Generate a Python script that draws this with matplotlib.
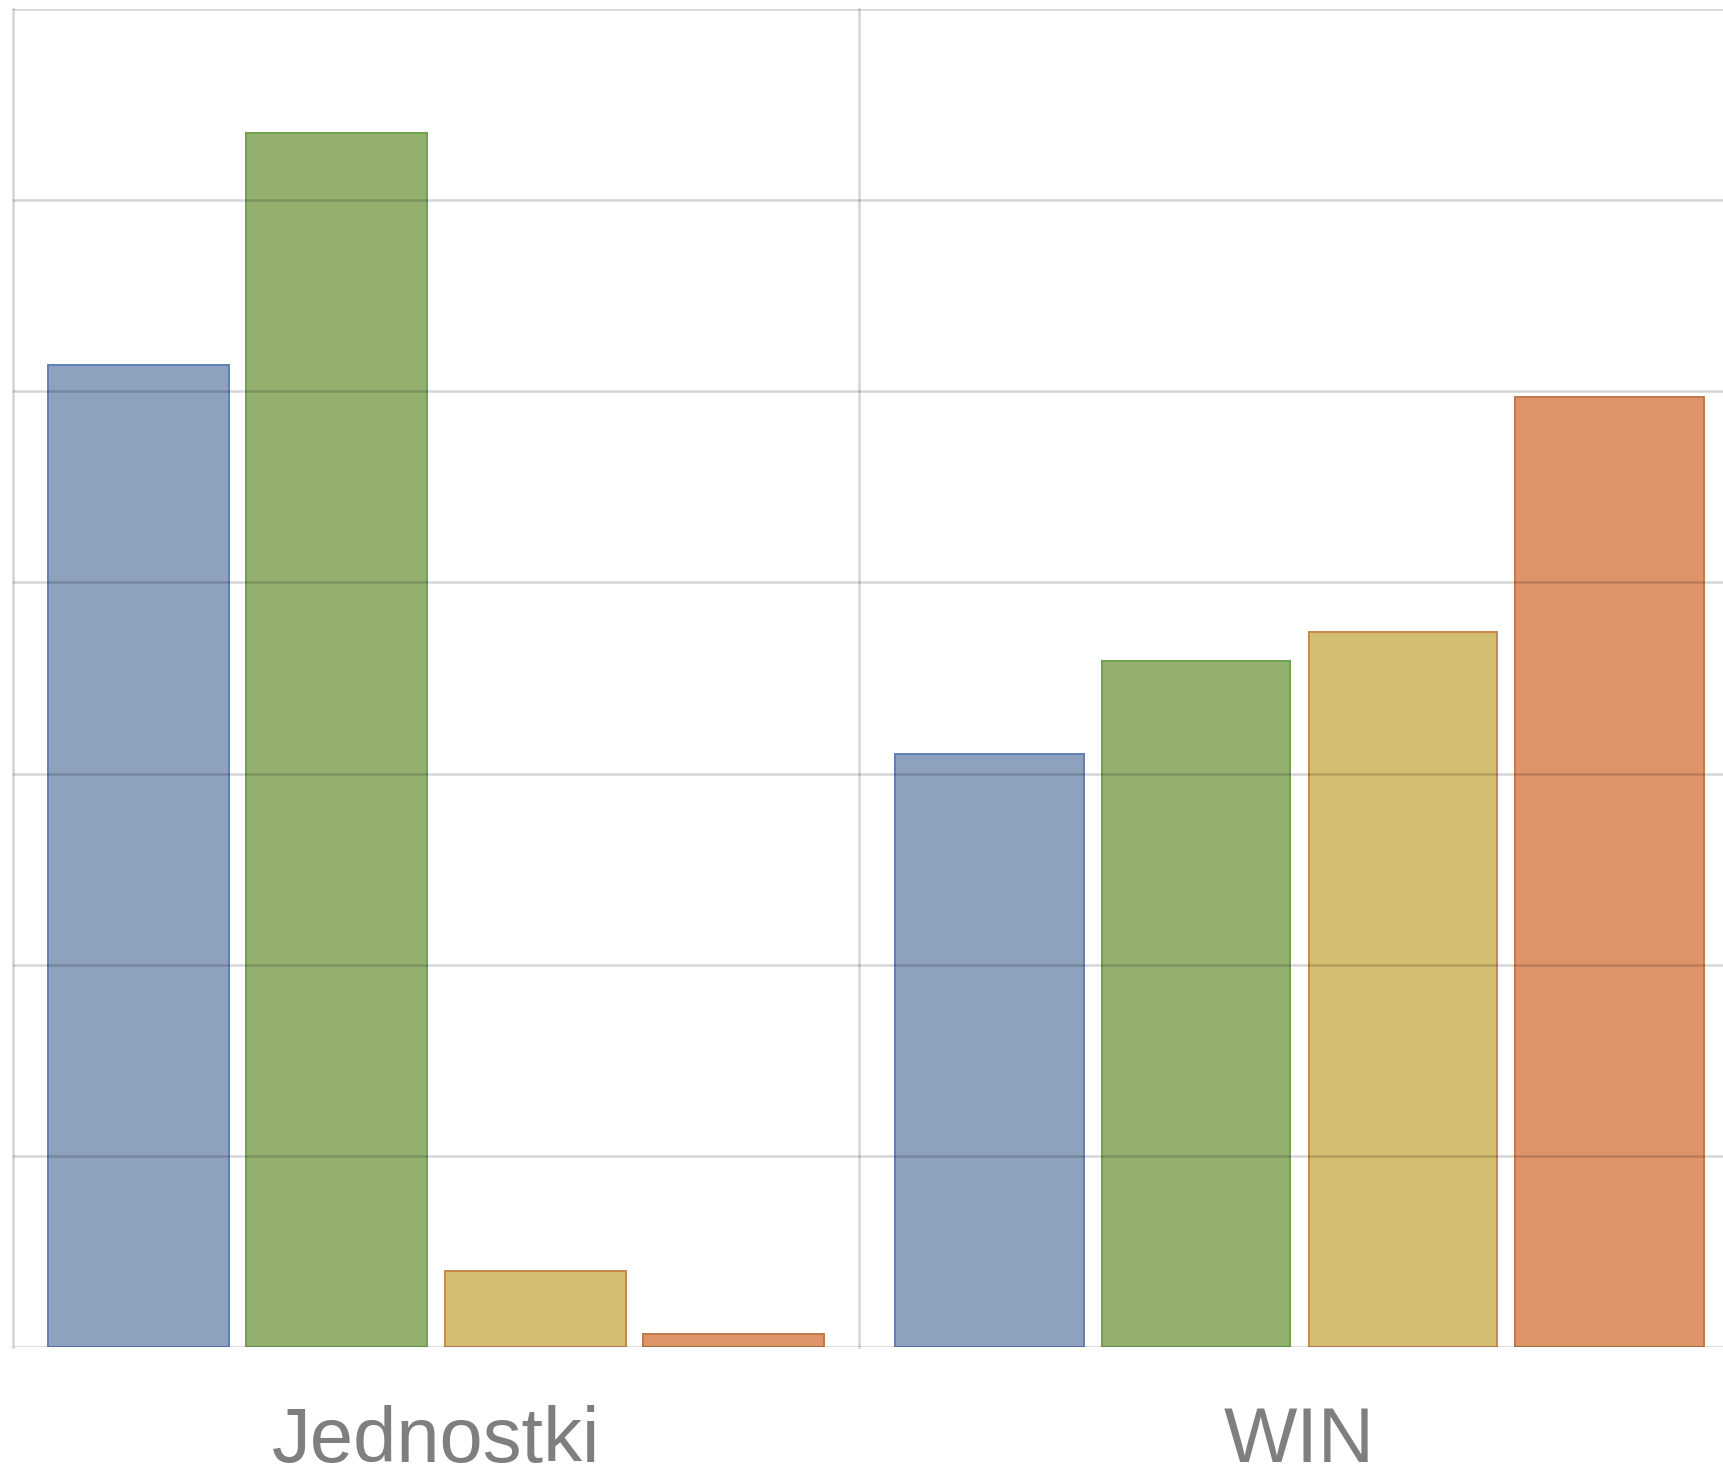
import matplotlib
matplotlib.use("Agg")
import matplotlib.pyplot as plt
import numpy as np

# ---- data ----
categories = ["Jednostki", "WIN"]
series_names = ["Seria 1", "Seria 2", "Seria 3", "Seria 4"]
values_jednostki = [5.14, 6.35, 0.40, 0.07]
values_win = [3.10, 3.59, 3.74, 4.97]
y_ticks = [0, 1, 2, 3, 4, 5, 6, 7]

fill_colors = ["#8EA2BE", "#94B06F", "#D4BF70", "#DF9369"]
edge_colors = ["#5F7FB8", "#6FA050", "#C8874A", "#C07A45"]

W, H = 1723, 1476
fig = plt.figure(figsize=(W / 100, H / 100), dpi=100)
fig.patch.set_facecolor("white")

grid_color = "#D5D5D5"
bottom = (H - 1347) / H
height = (1347 - 9) / H
ax_l = fig.add_axes([13 / W, bottom, 846 / W, height])
ax_r = fig.add_axes([859 / W, bottom, 881 / W, height])

step = 0.2347
bw = 0.214
offsets = [(i - 1.5) * step for i in range(4)]

for ax, cat, vals in [(ax_l, categories[0], values_jednostki),
                      (ax_r, categories[1], values_win)]:
    for i, v in enumerate(vals):
        ax.bar(0 + offsets[i], v, width=bw, color=fill_colors[i],
               edgecolor=edge_colors[i], linewidth=1.4, zorder=1,
               label=series_names[i])
    ax.set_xlim(-0.5, 0.5)
    ax.set_ylim(y_ticks[0], y_ticks[-1])
    ax.set_yticks(y_ticks)
    ax.yaxis.grid(True, color="black", alpha=0.16, linewidth=1.8, zorder=3)
    ax.set_axisbelow(False)
    ax.tick_params(axis="y", left=False, labelleft=False)
    ax.set_xticks([0])
    ax.set_xticklabels([cat], fontsize=56, color="#7F7F7F",
                       family=["Liberation Sans", "DejaVu Sans"])
    ax.tick_params(axis="x", length=0, pad=42)
    for s in ["top", "bottom"]:
        ax.spines[s].set_visible(False)
    for s in ["left", "right"]:
        ax.spines[s].set_color(grid_color)
        ax.spines[s].set_linewidth(1.8)
    ax.patch.set_visible(False)

ax_r.spines["left"].set_visible(False)
ax_r.spines["right"].set_visible(False)

fig.savefig("out.png", dpi=100, facecolor="white")
